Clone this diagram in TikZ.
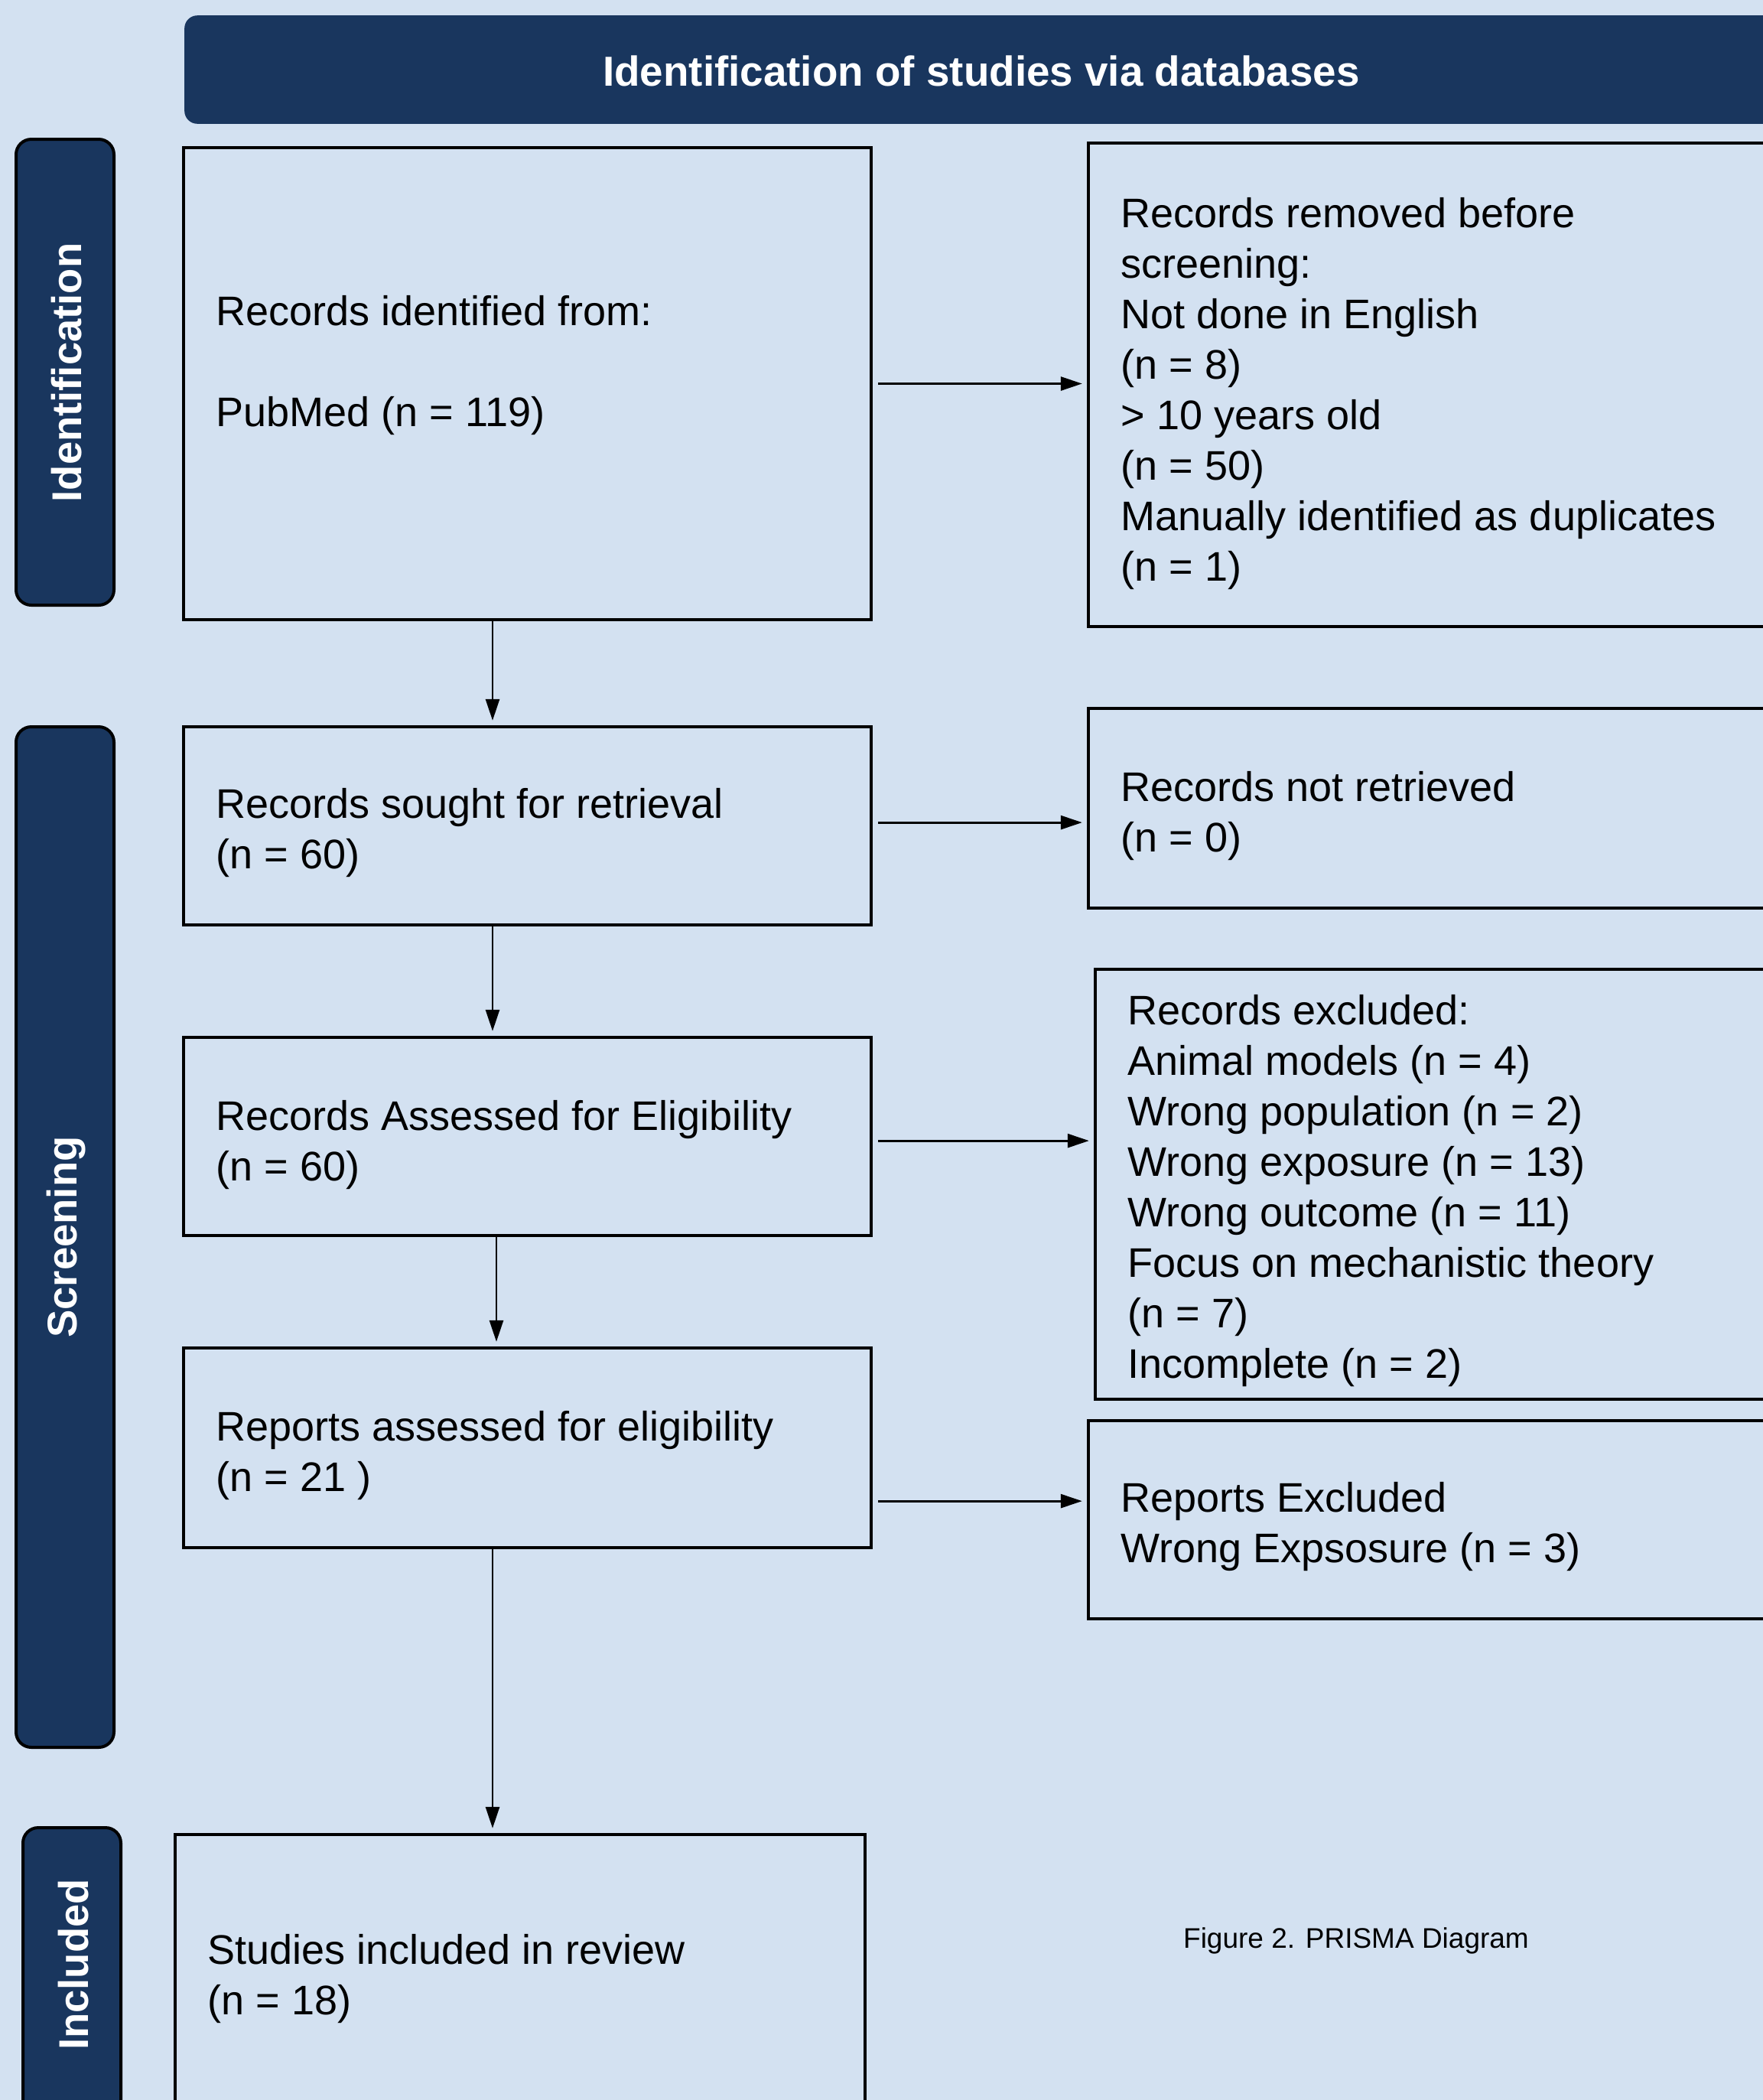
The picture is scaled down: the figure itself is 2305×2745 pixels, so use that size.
\documentclass[tikz,border=0pt]{standalone}
\usepackage{fontspec}
\setmainfont{Liberation Sans}
\usetikzlibrary{arrows.meta}
\definecolor{bgblue}{RGB}{211,225,241}
\definecolor{navy}{RGB}{25,54,94}
\tikzset{
  flowbox/.style={draw=black, line width=1.1pt, fill=bgblue, inner sep=0pt, rectangle},
  bar/.style={draw=black, line width=1pt, fill=navy, rounded corners=5pt, inner sep=0pt, rectangle},
  bartext/.style={text=white, font=\fontsize{13.6}{16}\selectfont\bfseries, rotate=90, inner sep=0pt},
  boxtext/.style={anchor=north west, align=left, inner sep=0pt, font=\fontsize{13.5}{16.5}\selectfont},
  arr/.style={line width=0.7pt, -{Triangle[length=7pt,width=4.5pt]}, shorten >=1.5pt},
  harr/.style={arr, shorten <=1.75pt},
}
\begin{document}
\begin{tikzpicture}[x=0.25pt, y=-0.25pt]
\useasboundingbox (0,0) rectangle (2305,2745);
\clip (0,0) rectangle (2305,2745);
\fill[bgblue] (0,0) rectangle (2305,2745);

% banner
\node[fill=navy, draw=navy, rounded corners=4pt, minimum width=529.5pt, minimum height=35pt, inner sep=0pt] (banner) at (1301,91) {};
\node[text=white, font=\fontsize{13.7}{16}\selectfont\bfseries, inner sep=0pt] (bannertext) at (1283,93) {Identification of studies via databases};

% side bars
\node[bar, minimum width=32pt, minimum height=152.25pt] (barI) at (85,486.5) {};
\node[bartext] (barItext) at (87,487) {Identification};
\node[bar, minimum width=32pt, minimum height=333.5pt] (barS) at (85,1617) {};
\node[bartext] (barStext) at (87,1617) {Screening};
\node[bar, minimum width=32pt, minimum height=102.75pt] (barN) at (94,2594.5) {};
\node[bartext] (barNtext) at (96,2568) {Included};

% boxes
\node[flowbox, minimum width=224.75pt, minimum height=154.25pt] (b1) at (689.5,501.5) {};
\node[flowbox, minimum width=229.25pt, minimum height=158pt] (rem) at (1881.5,503) {};
\node[flowbox, minimum width=224.75pt, minimum height=64.75pt] (sought) at (689.5,1079.5) {};
\node[flowbox, minimum width=229.25pt, minimum height=65.25pt] (notret) at (1881.5,1056.5) {};
\node[flowbox, minimum width=224.75pt, minimum height=64.75pt] (assess) at (689.5,1485.5) {};
\node[flowbox, minimum width=227pt, minimum height=140.5pt] (excl) at (1886,1548) {};
\node[flowbox, minimum width=224.75pt, minimum height=65.25pt] (reports) at (689.5,1892.5) {};
\node[flowbox, minimum width=229.25pt, minimum height=64.75pt] (repexcl) at (1881.5,1986.5) {};
\node[flowbox, minimum width=225.5pt, minimum height=100.5pt] (incl) at (680,2599) {};

% texts
\node[boxtext] (t1) at (282,378) {\strut Records identified from:\\ \strut\\PubMed (n = 119)};
\node[boxtext] (trem) at (1465,250) {\strut Records removed before\\screening:\\Not done in English\\(n = 8)\\> 10 years old\\(n = 50)\\Manually identified as duplicates\\(n = 1)};
\node[boxtext] (tsought) at (282,1022) {\strut Records sought for retrieval\\(n = 60)};
\node[boxtext] (tnotret) at (1465,1000) {\strut Records not retrieved\\(n = 0)};
\node[boxtext] (tassess) at (282,1430) {\strut Records Assessed for Eligibility\\(n = 60)};
\node[boxtext] (texcl) at (1474,1292) {\strut Records excluded:\\Animal models (n = 4)\\Wrong population (n = 2)\\Wrong exposure (n = 13)\\Wrong outcome (n = 11)\\Focus on mechanistic theory\\(n = 7)\\Incomplete (n = 2)};
\node[boxtext] (treports) at (282,1836) {\strut Reports assessed for eligibility\\(n = 21 )};
\node[boxtext] (trepexcl) at (1465,1929) {\strut Reports Excluded\\Wrong Expsosure (n = 3)};
\node[boxtext] (tincl) at (271,2520) {\strut Studies included in review\\(n = 18)};
\node[font=\fontsize{9.25}{11}\selectfont, inner sep=0pt] (caption) at (1773,2537) {Figure 2. PRISMA Diagram};

% connectors
\coordinate (vx) at (644,0);
\coordinate (vy) at (649,0);
\coordinate (hs) at ([yshift=1.1pt]sought.east);
\coordinate (ha) at ([yshift=-1.4pt]assess.east);
\coordinate (hr) at ([yshift=-17.4pt]reports.east);
\draw[harr] (b1.east) -- (rem.west |- b1.east);
\draw[arr] (vx |- b1.south) -- (vx |- sought.north);
\draw[harr] (hs) -- (notret.west |- hs);
\draw[arr] (vx |- sought.south) -- (vx |- assess.north);
\draw[harr] (ha) -- (excl.west |- ha);
\draw[arr] (vy |- assess.south) -- (vy |- reports.north);
\draw[harr] (hr) -- (repexcl.west |- hr);
\draw[arr] (vx |- reports.south) -- (vx |- incl.north);
\end{tikzpicture}
\end{document}
